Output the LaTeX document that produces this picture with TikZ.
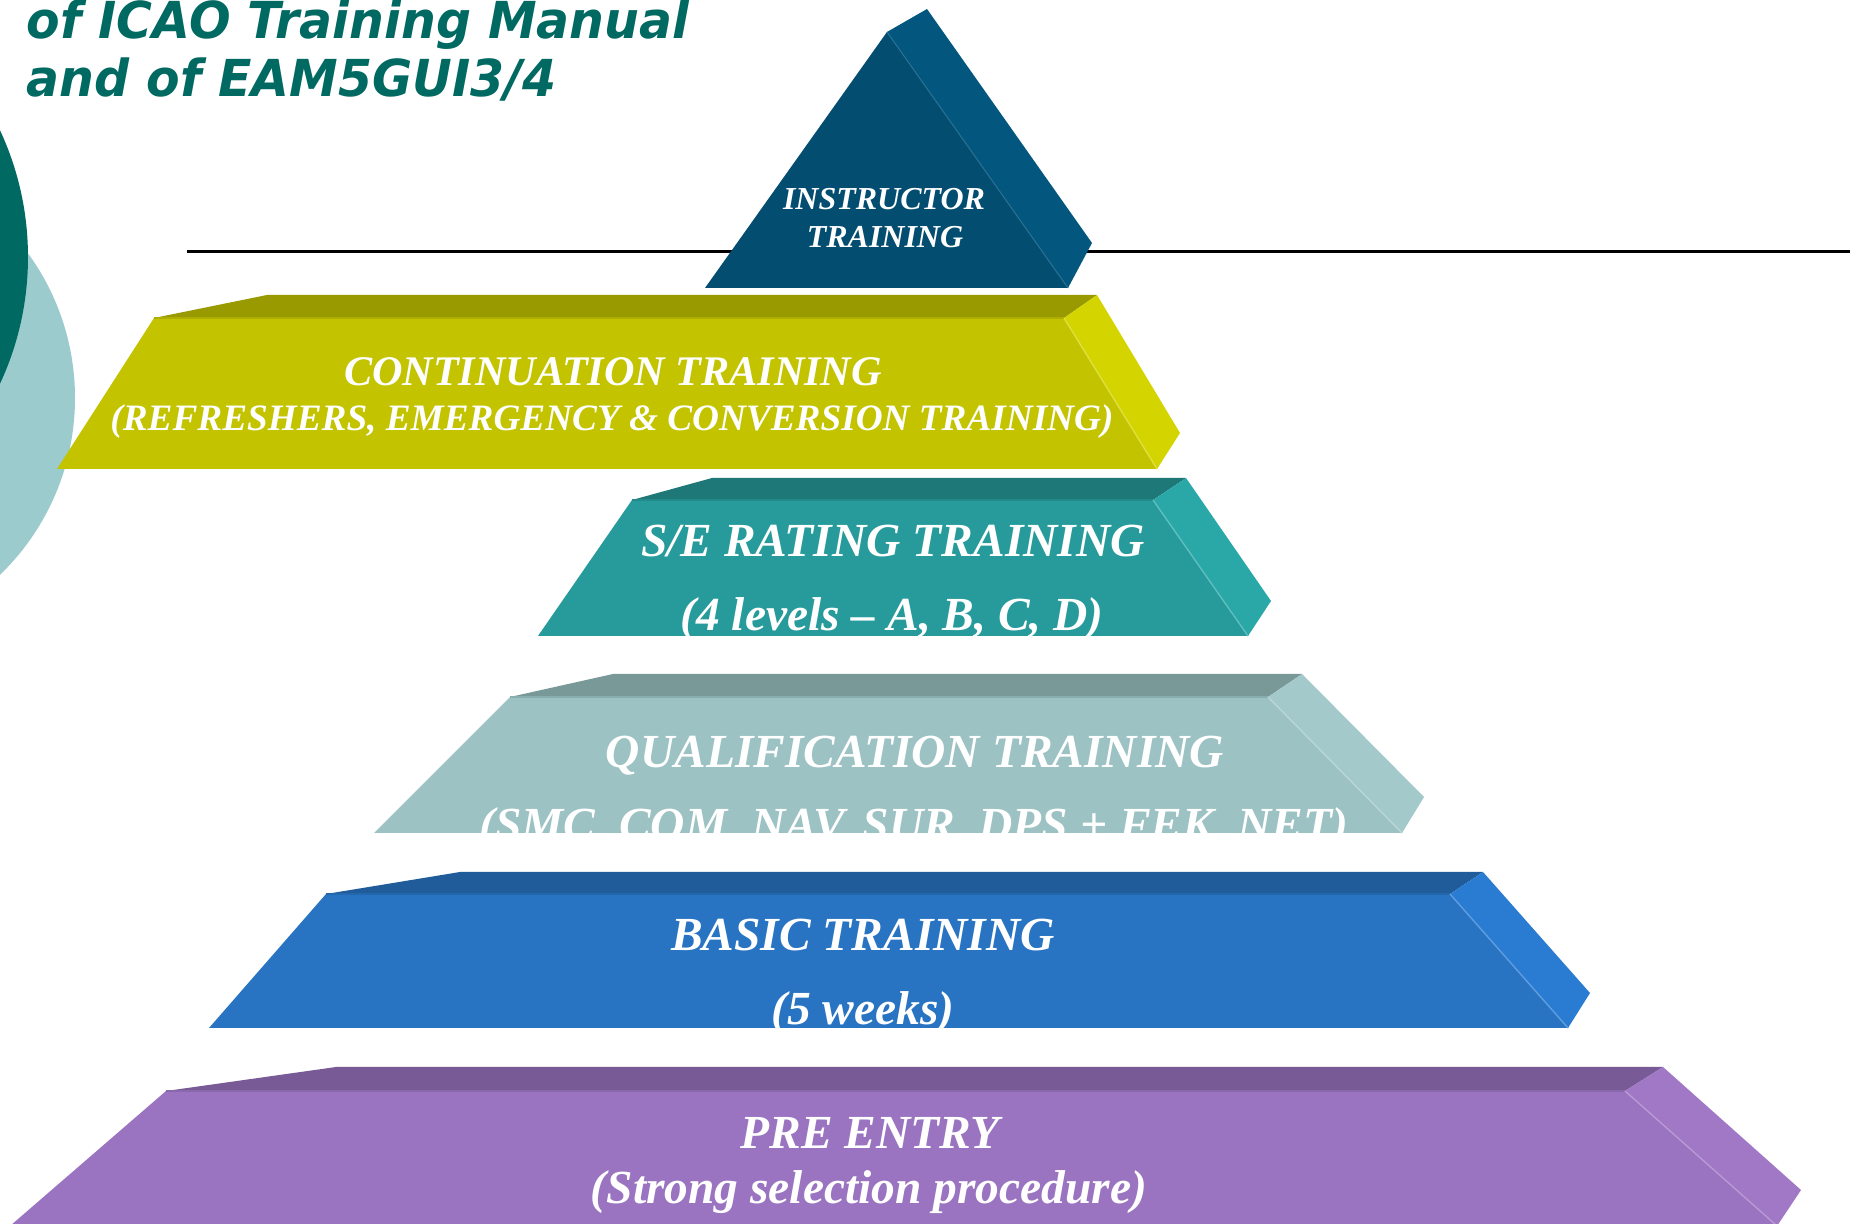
\documentclass[tikz,border=0pt]{standalone}
\usepackage{fontspec}
\usepackage{graphicx}
\setmainfont{Liberation Serif}
\newfontfamily\titlefont{DejaVu Sans}
\definecolor{tealD}{HTML}{006962}
\definecolor{tealL}{HTML}{9CCBCD}
\definecolor{triF}{HTML}{034D70}
\definecolor{triS}{HTML}{03577F}
\definecolor{yF}{HTML}{C3C300}
\definecolor{yT}{HTML}{999900}
\definecolor{yS}{HTML}{D4D400}
\definecolor{sF}{HTML}{279B9B}
\definecolor{sT}{HTML}{1F7878}
\definecolor{sS}{HTML}{2AA8A8}
\definecolor{qF}{HTML}{9CC2C3}
\definecolor{qT}{HTML}{799898}
\definecolor{qS}{HTML}{A3C9CA}
\definecolor{bF}{HTML}{2874C2}
\definecolor{bT}{HTML}{1F5C99}
\definecolor{bS}{HTML}{2A7CD3}
\definecolor{pF}{HTML}{9A74C0}
\definecolor{pT}{HTML}{785B96}
\definecolor{pS}{HTML}{A078C6}
\newcommand\drawprism[4]{%
  \fill[#2] (#1-bl) -- (#1-br) -- (#1-tr) -- (#1-tl) -- cycle;
  \fill[#3] (#1-tl) -- (#1-tr) -- (#1-dr) -- (#1-dl) -- cycle;
  \fill[#4] (#1-tr) -- (#1-br) -- (#1-s) -- (#1-dr) -- cycle;
  \draw[#2!50!#3, line width=0.6pt] (#1-tl) -- (#1-tr);
  \draw[#4!75!white, line width=0.4pt] (#1-tr) -- (#1-dr);
}
\newcommand\condense[1]{\scalebox{0.96}[1]{#1}}
\begin{document}
\begin{tikzpicture}[x=0.1mm, y=-0.1mm,
  lbl/.style={text=white, inner sep=0pt, anchor=base},
  lblbig/.style={lbl, font=\fontsize{13.5pt}{16pt}\selectfont\bfseries\itshape},
  lblcA/.style={lbl, font=\fontsize{12.0pt}{14pt}\selectfont\bfseries\itshape},
  lblcB/.style={lbl, font=\fontsize{10.6pt}{13pt}\selectfont\bfseries\itshape},
  lbltri/.style={lbl, font=\fontsize{9.1pt}{11pt}\selectfont\bfseries\itshape},
  titlestyle/.style={text=tealD, inner sep=0pt, anchor=base west,
    font=\titlefont\fontsize{14.5pt}{18pt}\selectfont\bfseries\itshape},
  rule/.style={draw=black, line width=0.85pt}]
\useasboundingbox (0,0) rectangle (1860,1224);
\clip (0,0) rectangle (1860,1224);
\fill[white] (0,0) rectangle (1860,1224);

% circles at left
\fill[tealL] (-171,398) circle[radius=24.6mm];
\fill[tealD] (-272,257) circle[radius=30mm];

% title
\node[titlestyle] (title1) at (26,39) {\condense{of ICAO Training Manual}};
\node[titlestyle] (title2) at (26,97) {\condense{and of EAM5GUI3/4}};

% horizontal rule
\coordinate (ruleL) at (187,251.5);
\coordinate (ruleR) at (1850,251.5);
\draw[rule] (ruleL) -- (ruleR);

% triangle
\coordinate (tri-l) at (705,288);
\coordinate (tri-a) at (887,32);
\coordinate (tri-r) at (1068,288);
\coordinate (tri-b) at (927,9);
\coordinate (tri-s) at (1092,243);
\fill[triF] (tri-l) -- (tri-a) -- (tri-r) -- cycle;
\fill[triS] (tri-a) -- (tri-b) -- (tri-s) -- (tri-r) -- cycle;
\draw[triS!85!white, line width=0.3pt] (tri-a) -- (tri-r);
\node[lbltri] (instr1) at (884,210) {INSTRUCTOR};
\node[lbltri] (instr2) at (885,248) {TRAINING};

% continuation layer
\coordinate (c-bl) at (267,295);
\coordinate (c-br) at (1097,295);
\coordinate (c-tl) at (154,318);
\coordinate (c-tr) at (1064,318);
\coordinate (c-dl) at (57,469);
\coordinate (c-dr) at (1157,469);
\coordinate (c-s) at (1180,433);
\drawprism{c}{yT}{yF}{yS}
\node[lblcA] (cont1) at (613,386) {CONTINUATION TRAINING};
\node[lblcB] (cont2) at (612,431) {(REFRESHERS, EMERGENCY \& CONVERSION TRAINING)};

% S/E rating layer
\coordinate (s-bl) at (712,478);
\coordinate (s-br) at (1186,478);
\coordinate (s-tl) at (632,500);
\coordinate (s-tr) at (1153,500);
\coordinate (s-dl) at (538,636);
\coordinate (s-dr) at (1248,636);
\coordinate (s-s) at (1271,601);
\drawprism{s}{sT}{sF}{sS}
\node[lblbig] (se1) at (893,557) {S/E RATING TRAINING};
\node[lblbig] (se2) at (892,631) {(4 levels -- A, B, C, D)};

% qualification layer
\coordinate (q-bl) at (613,674);
\coordinate (q-br) at (1302,674);
\coordinate (q-tl) at (510,697);
\coordinate (q-tr) at (1268,697);
\coordinate (q-dl) at (374,833);
\coordinate (q-dr) at (1402,833);
\coordinate (q-s) at (1424,797);
\drawprism{q}{qT}{qF}{qS}
\node[lblbig] (qual1) at (915,768) {QUALIFICATION TRAINING};
\begin{scope}
\clip (q-tl) -- (q-tr) -- (q-dr) -- (q-dl) -- cycle;
\node[lblbig] (qual2) at (914,841) {(SMC, COM, NAV, SUR, DPS + FEK, NET)};
\end{scope}

% basic layer
\coordinate (b-bl) at (460,872);
\coordinate (b-br) at (1483,872);
\coordinate (b-tl) at (326,894);
\coordinate (b-tr) at (1450,894);
\coordinate (b-dl) at (209,1028);
\coordinate (b-dr) at (1568,1028);
\coordinate (b-s) at (1590,993);
\drawprism{b}{bT}{bF}{bS}
\node[lblbig] (basic1) at (863,951) {BASIC TRAINING};
\node[lblbig] (basic2) at (863,1024) {(5 weeks)};

% pre entry layer
\coordinate (p-bl) at (336,1067);
\coordinate (p-br) at (1663,1067);
\coordinate (p-tl) at (166,1091);
\coordinate (p-tr) at (1625,1091);
\coordinate (p-dl) at (10,1226);
\coordinate (p-dr) at (1777,1226);
\coordinate (p-s) at (1801,1190);
\drawprism{p}{pT}{pF}{pS}
\node[lblbig] (pre1) at (870,1148) {PRE ENTRY};
\node[lblbig] (pre2) at (869,1204) {(Strong selection procedure)};
\end{tikzpicture}
\end{document}
